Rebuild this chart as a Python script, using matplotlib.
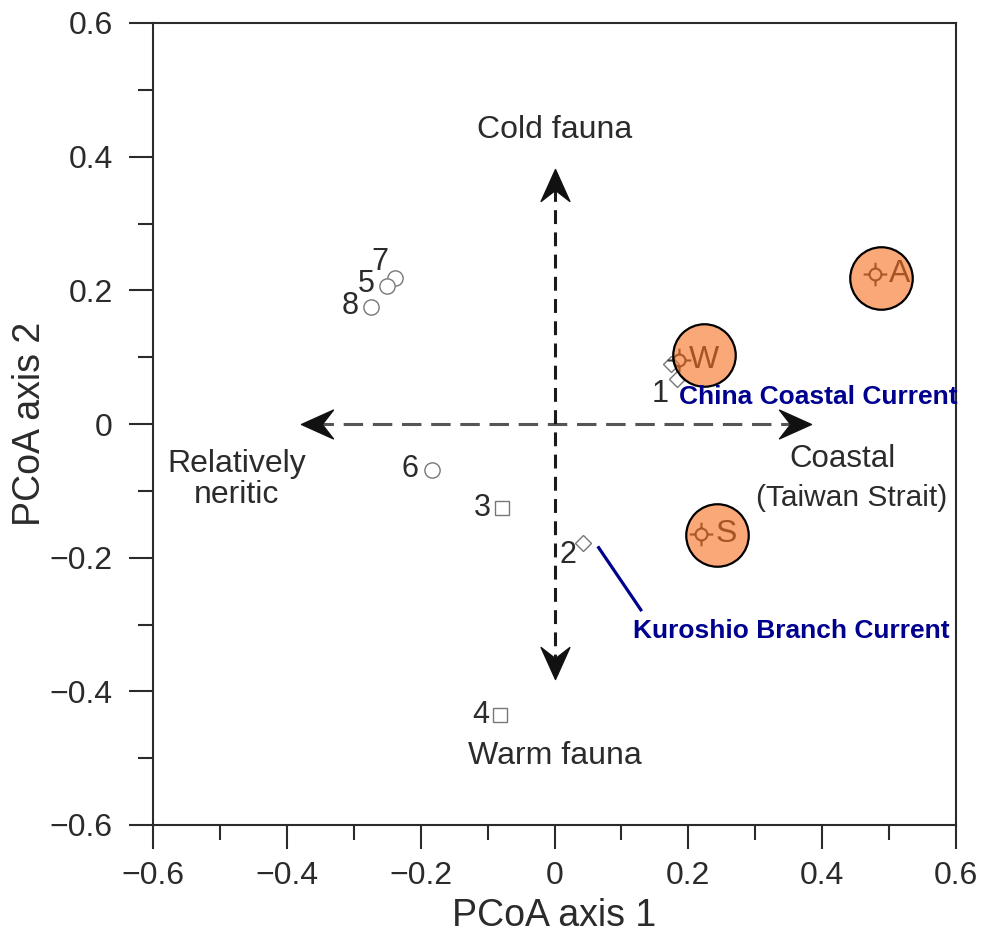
#!/usr/bin/env python3
"""PCoA ordination of fauna samples with current annotations"""
import matplotlib
matplotlib.use("Agg")
import matplotlib.pyplot as plt
import numpy as np
from matplotlib.path import Path
import matplotlib.transforms as mtransforms

plt.rcParams['font.family'] = ['Liberation Sans', 'DejaVu Sans']
plt.rcParams['lines.scale_dashes'] = False

# sample points (PCoA axis 1, PCoA axis 2)
circ_x = [-0.238, -0.250, -0.274, -0.183]
circ_y = [0.218, 0.206, 0.175, -0.069]
circ_lab = ['7', '5', '8', '6']

sq_x = [-0.079, -0.081]
sq_y = [-0.125, -0.436]
sq_lab = ['3', '4']

dia_x = [0.043, 0.174, 0.183]
dia_y = [-0.178, 0.090, 0.067]
dia_lab = ['2', '', '1']

# seasonal centroids (crosshair) and highlight circles
cen_x = [0.479, 0.186, 0.219]
cen_y = [0.225, 0.096, -0.164]
cen_lab = ['A', 'W', 'S']
hl_x = [0.488, 0.223, 0.243]
hl_y = [0.219, 0.103, -0.166]

ticks = [-0.6, -0.4, -0.2, 0, 0.2, 0.4, 0.6]
tick_labels = ['\u22120.6', '\u22120.4', '\u22120.2', '0', '0.2', '0.4', '0.6']
minor_ticks = [-0.5, -0.3, -0.1, 0.1, 0.3, 0.5]

# label offsets (points) for the numbered samples
circ_off = [(-11, 12), (-15, 1.5), (-15, 0.5), (-16, 0.5)]
sq_off = [(-14, 0), (-14, 0)]
dia_off = [(-11, -9), (0, 0), (-12, -11)]

DARK = '#2b2b2b'
NAVY = '#00008f'


def arrow_head():
    """concave arrowhead pointing left"""
    verts = [(-1, 0), (1, 0.9), (0.3, 0), (1, -0.9), (-1, 0)]
    codes = [Path.MOVETO, Path.LINETO, Path.LINETO, Path.LINETO, Path.CLOSEPOLY]
    return Path(verts, codes)


def crosshair():
    """small circle with four ticks"""
    circ = Path.unit_circle()
    circ = Path(circ.vertices * 0.5, circ.codes)
    segs = []
    for dx, dy in [(1, 0), (-1, 0), (0, 1), (0, -1)]:
        segs.append(Path([(dx * 0.5, dy * 0.5), (dx, dy)], [Path.MOVETO, Path.LINETO]))
    return Path.make_compound_path(circ, *segs)


def main():
    fig = plt.figure(figsize=(9.82, 9.39), dpi=100)
    ax = fig.add_axes([153 / 982, 1 - 825 / 939, 803 / 982, 802 / 939])
    ax.set_xlim(-0.6, 0.6)
    ax.set_ylim(-0.6, 0.6)

    for s in ax.spines.values():
        s.set_color(DARK)
        s.set_linewidth(1.5)

    ax.set_xticks(ticks)
    ax.set_xticklabels(tick_labels)
    ax.set_yticks(ticks)
    ax.set_yticklabels(tick_labels)
    ax.set_xticks(minor_ticks, minor=True)
    ax.set_yticks(minor_ticks, minor=True)
    ax.tick_params(which='major', direction='out', length=17, width=1.5,
                   color=DARK, labelsize=23, labelcolor=DARK)
    ax.tick_params(which='minor', direction='out', length=11, width=1.5, color=DARK)
    ax.tick_params(axis='x', which='major', pad=9)
    ax.tick_params(axis='y', which='major', pad=12)

    ax.set_xlabel('PCoA axis 1', fontsize=27, color=DARK)
    ax.set_ylabel('PCoA axis 2', fontsize=27, color=DARK)
    ax.xaxis.set_label_coords(0.5, -0.113)
    ax.yaxis.set_label_coords(-0.153, 0.5)
    ax.xaxis.label.set_va('center')
    ax.yaxis.label.set_va('center')

    # dashed gradient arrows
    ax.plot([-0.36, 0.365], [0, 0], color='#555555', lw=2.2, dashes=(14, 7), zorder=1)
    ax.plot([0, 0], [-0.365, 0.365], color='#1a1a1a', lw=2.2, dashes=(10, 6), zorder=1)
    head = arrow_head()
    for ang, (hx, hy) in zip([0, 180, 270, 90],
                             [(-0.355, 0), (0.360, 0), (0, 0.358), (0, -0.358)]):
        m = head.transformed(mtransforms.Affine2D().rotate_deg(ang))
        ax.plot(hx, hy, marker=m, markersize=23, color='#111111', lw=0, zorder=2)

    ax.text(0, 0.44, 'Cold fauna', fontsize=23, ha='center', va='center', color=DARK)
    ax.text(0, -0.497, 'Warm fauna', fontsize=23, ha='center', va='center', color=DARK)
    ax.text(-0.475, -0.083, 'Relatively\nneritic', fontsize=23, ha='center',
            va='center', color=DARK, linespacing=1.05)
    ax.text(0.430, -0.053, 'Coastal', fontsize=22.5, ha='center',
            va='center', color=DARK)
    ax.text(0.444, -0.110, '(Taiwan Strait)', fontsize=21.5, ha='center',
            va='center', color=DARK)

    # samples
    ax.plot(circ_x, circ_y, 'o', ms=11, mfc='white', mec='#777777', mew=1.0, zorder=3)
    ax.plot(sq_x, sq_y, 's', ms=10, mfc='white', mec='#777777', mew=1.0, zorder=3)
    ax.plot(dia_x, dia_y, 'D', ms=8, mfc='white', mec='#777777', mew=1.0, zorder=3)
    for xs, ys, labs, offs in [(circ_x, circ_y, circ_lab, circ_off),
                               (sq_x, sq_y, sq_lab, sq_off),
                               (dia_x, dia_y, dia_lab, dia_off)]:
        for x, y, t, o in zip(xs, ys, labs, offs):
            ax.annotate(t, (x, y), xytext=o, textcoords='offset points',
                        ha='center', va='center', fontsize=22, color=DARK)

    # seasonal centroids under translucent highlight circles
    ax.plot(cen_x, cen_y, marker=crosshair(), ms=17, mfc='none', mec='#3a3a3a',
            mew=1.5, lw=0, zorder=4)
    for x, y, t in zip(cen_x, cen_y, cen_lab):
        ax.annotate(t, (x, y), xytext=(18, 0), textcoords='offset points',
                    ha='center', va='center', fontsize=23, color='#2e2e2e', zorder=4)
    ax.plot(hl_x, hl_y, 'o', ms=45, mfc=(0.969, 0.431, 0.118, 0.6),
            mec='black', mew=1.6, lw=0, zorder=5)

    # currents
    ax.text(0.186, 0.040, 'China Coastal Current', fontsize=19, fontweight='bold',
            color=NAVY, ha='left', va='center', zorder=6)
    ax.text(0.118, -0.310, 'Kuroshio Branch Current', fontsize=19, fontweight='bold',
            color=NAVY, ha='left', va='center', zorder=6)
    ax.plot([0.066, 0.129], [-0.185, -0.278], color=NAVY, lw=2.3, zorder=6)

    fig.savefig('out.png', dpi=100)
    plt.close(fig)


if __name__ == "__main__":
    main()
